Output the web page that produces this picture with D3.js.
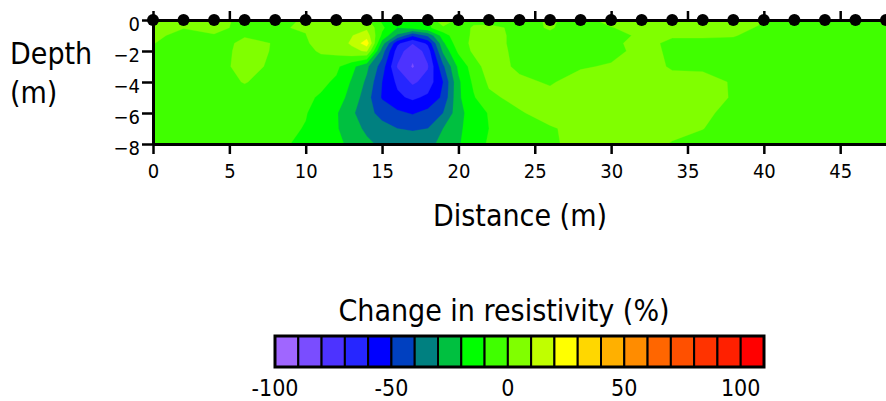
<!DOCTYPE html>
<html>
<head>
<meta charset="utf-8">
<script src="https://cdn.jsdelivr.net/npm/d3@7"></script>
<style>
  body { margin: 0; background: #fff; }
  svg text {
    font-family: "DejaVu Sans Condensed", "DejaVu Sans", sans-serif;
    font-stretch: condensed;
    fill: #000;
  }
</style>
</head>
<body>
<div id="wrapper"></div>
<script>
// model nodes (m)
const distances = [0, 2, 4, 6, 8, 10, 11, 12, 13, 14, 15, 16, 17, 18, 19, 20, 21, 22, 24, 26, 28, 30, 32, 34, 36, 38, 40, 42, 44, 46, 48];
const depths = [0, 0.5, 1, 1.5, 2, 3, 4, 5, 6, 7, 8];

// % change in resistivity, one column per distance, read top -> bottom through depths
const changeProfiles = [
  [5, 4, 3, 0.3, -3, -4, -5, -5, -5, -5, -5],
  [5, 0.5, -4, -4, -4, -5, -5, -5, -5, -5, -5],
  [4, 2, -0.5, -3, -3, -3, -4, -5, -5, -5, -5],
  [-3, -2, -0.5, 1.5, 2, 2.5, 0.5, -4, -5, -5, -5],
  [-3, -0.5, -0.3, -0.3, -0.5, -1.5, -4, -5, -6, -7, -8],
  [1, 0.5, -0.2, -1, -2, -5, -7, -8.5, -9.5, -10.5, -12],
  [4, 5, 4, 3, 1, -4, -8, -11, -14, -15, -15],
  [5, 6, 6, 6, 3, -8, -11.5, -16, -19, -19, -18],
  [5, 8, 9.5, 11, 8, -17, -21, -23, -28, -26, -22],
  [2, 8, 15, 26, 11, -28, -32, -36, -37, -32, -28],
  [-12, -8, -12, -25, -35, -45, -50, -51, -43, -37, -32],
  [-22, -20, -32, -58, -65, -71, -62, -58, -48, -40, -34],
  [-14, -17, -49, -69.5, -77, -81, -72, -62, -51, -41, -35],
  [-12, -12, -38, -58, -66, -71, -66, -58, -47, -40, -33],
  [12, -3, -15, -22, -28, -42, -50, -48, -40, -30, -27],
  [-4, -4, -3, -4, -8, -18, -22, -22, -24, -22, -21],
  [-2, 1, 1, 2, 2, -5, -8, -11, -14, -15, -14],
  [-3, 2, 4, 4, 5, 5, 1.5, -2, -9.5, -10, -9],
  [-3, -2, -3, -3, -3, -2, 2, 3, -1, -4, -5],
  [1, 0.5, -1, -3, -4, -3, -1, 3, 4, -1, -1],
  [-3, -3, -2, -1, -3, -1, 4, 5, 5, 3, 2],
  [3, -0.5, -3, -2, -3, 1, 5, 6, 6, 5, 4],
  [4, 4, 1.5, 3, 3, 4, 5, 5, 5, 4, 3],
  [4, 3, 1, -2, -1.5, -1, 3, 3, 3, 2, -0.5],
  [4, 3, 1, -2, -3, -1, 2, 2.5, 2, 0.2, -3],
  [3, 2, 0.5, -2, -3, -3, -0.5, -0.5, -3, -4, -5],
  [0.5, -1, -3, -4, -4, -5, -5, -5, -5, -5, -5],
  [-3, -4, -4, -5, -5, -5, -5, -5, -5, -5, -5],
  [-4, -4, -5, -5, -5, -5, -5, -5, -5, -5, -5],
  [-4, -5, -5, -5, -5, -5, -5, -5, -5, -5, -5],
  [-4, -5, -5, -5, -5, -5, -5, -5, -5, -5, -5],
];

const electrodes = [0, 2, 4, 6, 8, 10, 12, 14, 16, 18, 20, 22, 24, 26, 28, 30, 32, 34, 36, 38, 40, 42, 44, 46, 48];

const legendBreaks = [-100, -90, -80, -70, -60, -50, -40, -30, -20, -10, 0, 10, 20, 30, 40, 50, 60, 70, 80, 90, 100, 110];
const legendColors = [
  "#a066ff", "#7a4dff", "#4d33ff", "#2626ff", "#0000ff", "#0040c0", "#008080",
  "#00c040", "#00ff00", "#40ff00", "#80ff00", "#c0ff00", "#ffff00", "#ffd700",
  "#ffb000", "#ff8c00", "#ff6600", "#ff5000", "#ff3300", "#ff2000", "#ff0000",
];

const distanceTicks = [0, 5, 10, 15, 20, 25, 30, 35, 40, 45];
const depthTicks = [0, -2, -4, -6, -8];
const legendTicks = [-100, -50, 0, 50, 100];

function drawSection() {
  let dimensions = {
    width: 886,
    height: 401,
    margin: { top: 20, right: 0, bottom: 257, left: 153 },
  };
  dimensions.boundedWidth = dimensions.width - dimensions.margin.left - dimensions.margin.right;
  dimensions.boundedHeight = dimensions.height - dimensions.margin.top - dimensions.margin.bottom;

  const wrapper = d3.select("#wrapper")
    .append("svg")
    .attr("width", dimensions.width)
    .attr("height", dimensions.height);

  const bounds = wrapper.append("g")
    .attr("transform", `translate(${dimensions.margin.left},${dimensions.margin.top})`);

  const xScale = d3.scaleLinear()
    .domain([0, 48])
    .range([0, dimensions.boundedWidth]);

  const yScale = d3.scaleLinear()
    .domain([0, -8])
    .range([0, dimensions.boundedHeight]);

  // contour grid, row-major (depth rows, distance columns)
  const nx = distances.length;
  const ny = depths.length;
  const grid = [];
  for (let j = 0; j < ny; j++) {
    for (let i = 0; i < nx; i++) grid.push(changeProfiles[i][j]);
  }

  // grid index -> metres (d3.contours puts value i at i + 0.5)
  const colToDistance = d3.scaleLinear().domain(d3.range(nx)).range(distances);
  const rowToDepth = d3.scaleLinear().domain(d3.range(ny)).range(depths);
  const toScreen = d3.geoTransform({
    point(x, y) {
      this.stream.point(xScale(colToDistance(x - 0.5)), yScale(-rowToDepth(y - 0.5)));
    },
  });
  const pathGenerator = d3.geoPath(toScreen);

  const bands = d3.contours()
    .size([nx, ny])
    .thresholds(legendBreaks.slice(0, -1))(grid);

  bounds.append("clipPath")
    .attr("id", "plot-clip")
    .append("rect")
    .attr("width", dimensions.boundedWidth)
    .attr("height", dimensions.boundedHeight);

  bounds.append("g")
    .attr("clip-path", "url(#plot-clip)")
    .selectAll("path")
    .data(bands)
    .join("path")
    .attr("d", pathGenerator)
    .attr("fill", (d, i) => legendColors[i])
    .attr("stroke", (d, i) => legendColors[i])
    .attr("stroke-width", 0.3);

  // axes
  const styleAxis = g => {
    g.select(".domain").attr("stroke-width", 3);
    g.selectAll(".tick line").attr("stroke-width", 2.5);
    g.attr("font-size", 20);
  };

  const xAxisGenerator = d3.axisBottom(xScale)
    .tickValues(distanceTicks)
    .tickSize(10)
    .tickSizeOuter(0)
    .tickPadding(10);
  bounds.append("g")
    .attr("transform", `translate(0,${dimensions.boundedHeight})`)
    .call(xAxisGenerator)
    .call(styleAxis);

  const topAxisGenerator = d3.axisTop(xScale)
    .tickValues(distanceTicks)
    .tickSize(9)
    .tickSizeOuter(0)
    .tickFormat("");
  bounds.append("g")
    .call(topAxisGenerator)
    .call(styleAxis);

  const yAxisGenerator = d3.axisLeft(yScale)
    .tickValues(depthTicks)
    .tickSize(11)
    .tickSizeOuter(0)
    .tickPadding(2);
  bounds.append("g")
    .call(yAxisGenerator)
    .call(styleAxis)
    .selectAll("text")
    .attr("dy", "0.52em");

  // electrodes
  bounds.append("g")
    .selectAll("circle")
    .data(electrodes)
    .join("circle")
    .attr("cx", d => xScale(d))
    .attr("cy", yScale(0))
    .attr("r", 6)
    .attr("fill", "#000");

  // axis titles
  wrapper.append("text")
    .attr("x", 10)
    .attr("y", 63.5)
    .attr("font-size", 30)
    .text("Depth");
  wrapper.append("text")
    .attr("x", 10)
    .attr("y", 103)
    .attr("font-size", 30)
    .text("(m)");
  wrapper.append("text")
    .attr("x", 520)
    .attr("y", 226)
    .attr("text-anchor", "middle")
    .attr("font-size", 30)
    .text("Distance (m)");

  // colour legend
  const legendScale = d3.scaleLinear()
    .domain([legendBreaks[0], legendBreaks[legendBreaks.length - 1]])
    .range([275, 764]);

  const legend = wrapper.append("g");

  legend.append("text")
    .attr("x", 504)
    .attr("y", 321)
    .attr("text-anchor", "middle")
    .attr("font-size", 30)
    .text("Change in resistivity (%)");

  legend.selectAll("rect")
    .data(legendColors)
    .join("rect")
    .attr("x", (d, i) => legendScale(legendBreaks[i]))
    .attr("width", (d, i) => legendScale(legendBreaks[i + 1]) - legendScale(legendBreaks[i]))
    .attr("y", 336)
    .attr("height", 31)
    .attr("fill", d => d)
    .attr("stroke", "#000")
    .attr("stroke-width", 2);

  legend.append("rect")
    .attr("x", legendScale.range()[0])
    .attr("y", 336)
    .attr("width", legendScale.range()[1] - legendScale.range()[0])
    .attr("height", 31)
    .attr("fill", "none")
    .attr("stroke", "#000")
    .attr("stroke-width", 3);

  legend.selectAll(".legend-label")
    .data(legendTicks)
    .join("text")
    .attr("class", "legend-label")
    .attr("x", d => legendScale(d))
    .attr("y", 396)
    .attr("text-anchor", "middle")
    .attr("font-size", 23)
    .text(d => d);
}

drawSection();
</script>
</body>
</html>
